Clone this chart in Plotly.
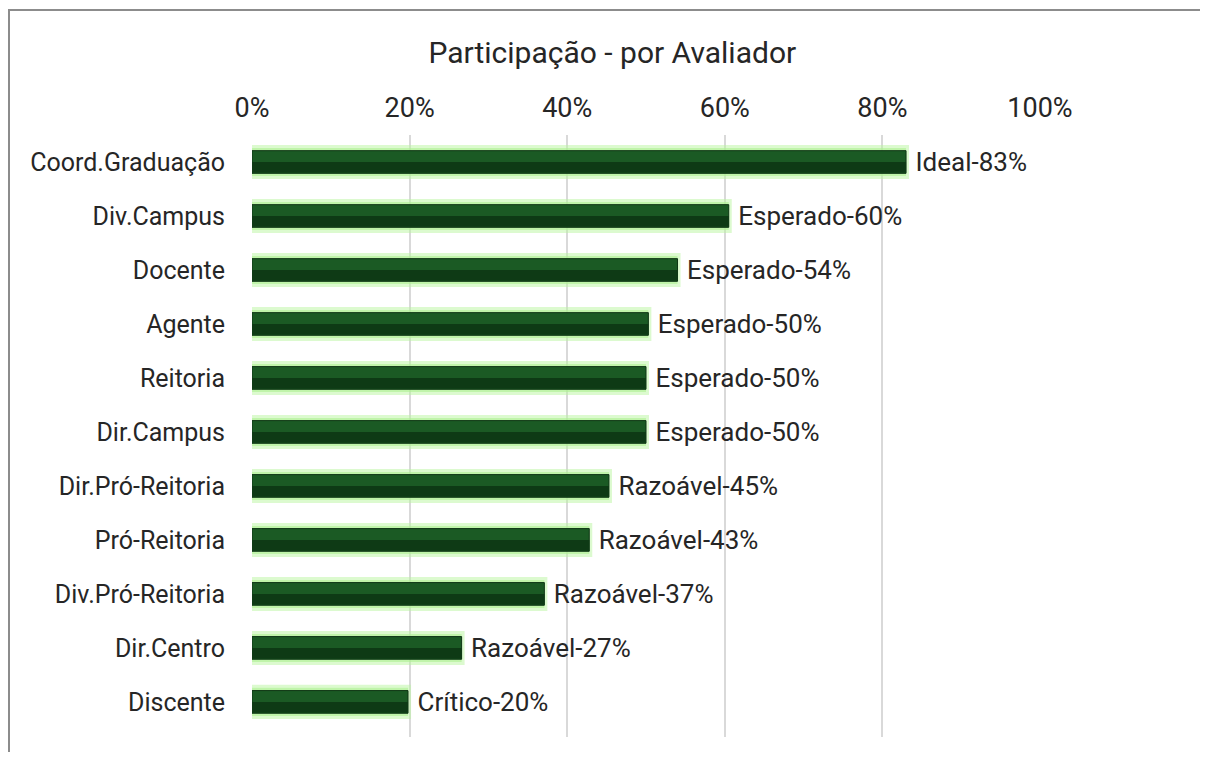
import plotly.graph_objects as go

# avaliadores (top to bottom) and participation
avaliadores = ["Coord.Graduação", "Div.Campus", "Docente", "Agente", "Reitoria",
               "Dir.Campus", "Dir.Pró-Reitoria", "Pró-Reitoria", "Div.Pró-Reitoria",
               "Dir.Centro", "Discente"]
participacao = [0.83, 0.605, 0.54, 0.503, 0.50, 0.50, 0.453, 0.428, 0.371, 0.266, 0.198]
rotulos = ["Ideal-83%", "Esperado-60%", "Esperado-54%", "Esperado-50%", "Esperado-50%",
           "Esperado-50%", "Razoável-45%", "Razoável-43%", "Razoável-37%",
           "Razoável-27%", "Crítico-20%"]

# page has an 8px body margin, so the figure is shrunk to avoid scrollbars
W, H = 1192, 744
L, R, T, B = 244, 160, 127, 15
n = len(avaliadores)

fig = go.Figure()

# glow around bars
fig.add_trace(go.Bar(
    y=avaliadores, x=participacao, orientation="h", width=0.52,
    marker=dict(color="rgba(160,235,130,0.6)", line=dict(color="rgba(185,245,160,0.5)", width=6)),
    hoverinfo="skip", showlegend=False))

# main bar
fig.add_trace(go.Bar(
    y=avaliadores, x=participacao, orientation="h", width=0.42,
    marker=dict(color="#1b5a24", line=dict(color="#0e3514", width=1)),
    text=[" " + r for r in rotulos], textposition="outside", cliponaxis=False,
    constraintext="none",
    textfont=dict(size=26, color="#262626", family="Roboto"),
    showlegend=False))

# darker lower half (shading)
fig.add_trace(go.Bar(
    y=avaliadores, x=participacao, orientation="h", width=0.2, offset=0.0,
    marker=dict(color="#0e3a15", line=dict(width=0)),
    hoverinfo="skip", showlegend=False))

ph = H - T - B
pw = W - L - R
fig.update_layout(
    width=W, height=H,
    barmode="overlay",
    paper_bgcolor="white", plot_bgcolor="white",
    margin=dict(l=L, r=R, t=T, b=B, autoexpand=False),
    title=dict(text="Participação - por Avaliador", x=0.507, xanchor="center",
               y=1 - 44 / H, yanchor="middle",
               font=dict(size=30, color="#262626", family="Roboto")),
    font=dict(family="Roboto", color="#262626"),
    xaxis=dict(side="top", range=[0, 1], dtick=0.2, tickformat=".0%",
               showgrid=True, gridcolor="#d9d9d9", gridwidth=2,
               zeroline=False, showline=False, ticks="", automargin=False,
               ticklabelstandoff=12,
               tickfont=dict(size=27, color="#262626")),
    yaxis=dict(range=[n - 0.5 + 0.15, -0.5], showgrid=False, zeroline=False, showline=False,
               ticks="", ticklabelstandoff=26, automargin=False,
               tickfont=dict(size=25, color="#262626")),
    shapes=[
        dict(type="line", xref="paper", yref="paper",
             x0=(0 - L) / pw, x1=(W + 20 - L) / pw,
             y0=1 + (T - 2) / ph, y1=1 + (T - 2) / ph,
             line=dict(color="#8c8c8c", width=2)),
        dict(type="line", xref="paper", yref="paper",
             x0=(1 - L) / pw, x1=(1 - L) / pw,
             y0=-(B + 20) / ph, y1=1 + (T - 2) / ph,
             line=dict(color="#8c8c8c", width=2)),
    ],
)

# no scrollbars in the page
fig.write_html("out.html", post_script="document.body.style.overflow='hidden';")
